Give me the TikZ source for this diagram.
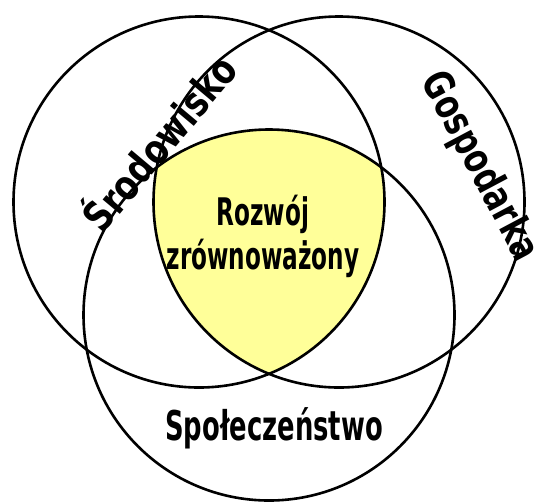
\documentclass[tikz,border=0pt]{standalone}
\usepackage{fontspec}
\setmainfont{DejaVu Sans}
\begin{document}
\begin{tikzpicture}[
        x=1pt, y=-1pt,
        ring/.style={
            draw,
            circle,
            line width=2.6pt,
            minimum size=371pt,
            inner sep=0pt
        },
        core/.style={
            fill={rgb,255:red,255;green,255;blue,153}
        },
        heading/.style={
            font=\bfseries\fontsize{41}{44}\selectfont,
            inner sep=0pt,
            transform shape
        }
    ]
        \useasboundingbox (0,0) rectangle (534,501);

        \coordinate (cl) at (199,202);
        \coordinate (cr) at (339,202);
        \coordinate (cb) at (269,315);

        \begin{scope}
            \clip (cl) circle[radius=185.5pt];
            \clip (cr) circle[radius=185.5pt];
            \fill[core] (cb) circle[radius=185.5pt];
        \end{scope}

        \node[ring] (srod) at (cl) {};
        \node[ring] (gosp) at (cr) {};
        \node[ring] (spol) at (cb) {};

        \node[heading, font=\bfseries\fontsize{38}{44}\selectfont, align=center, xscale=0.61] (rozwoj) at (263,236) {Rozwój\\zrównoważony};
        \node[heading, rotate=50, xscale=0.8] (lsrod) at (157,141) {Środowisko};
        \node[heading, rotate=-62, xscale=0.75] (lgosp) at (479,167) {Gospodarka};
        \node[heading, anchor=base, xscale=0.63] (lspol) at (274,440) {Społeczeństwo};
    \end{tikzpicture}
\end{document}
